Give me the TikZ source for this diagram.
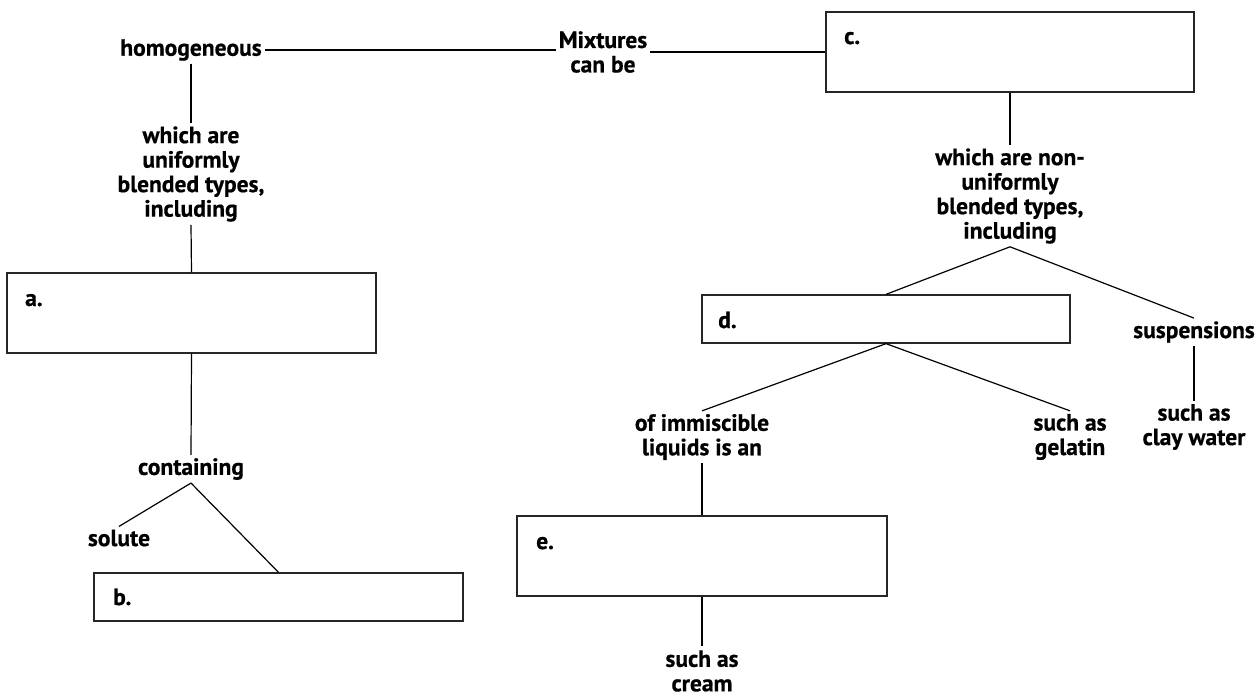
\documentclass[tikz,border=0pt]{standalone}
\usepackage{fontspec}
\setmainfont{PT Sans}[BoldFeatures={FakeBold=0.6}]
\usetikzlibrary{calc}
\tikzset{
  txt/.style={font=\bfseries\fontsize{23.5}{24.5}\selectfont, align=center, inner sep=3pt},
  lbl/.style={font=\bfseries\fontsize{23.5}{24.5}\selectfont, inner sep=0pt, anchor=base west},
  box/.style={draw=black!85, line width=1.3pt, minimum width=#1, inner sep=0pt},
  conn/.style={draw=black, line width=1.2pt},
}
\begin{document}
\begin{tikzpicture}[x=1pt,y=-1pt]
\useasboundingbox (0,0) rectangle (1257,697);
% left branch
\node[txt] (hom) at (191,50) {homogeneous};
\node[txt] (mix) at (603,52) {Mixtures\\can be};
\node[box=368pt, minimum height=80pt] (cbox) at (1010,52) {};
\node[lbl] (clab) at (844,44) {c.};
\node[txt] (wuni) at (191,174) {which are\\uniformly\\blended types,\\including};
\node[box=369pt, minimum height=80pt] (abox) at (191.5,313) {};
\node[lbl] (alab) at (25,306) {a.};
\node[txt] (cont) at (191,469) {containing};
\node[txt] (solute) at (119,538) {solute};
\node[box=369pt, minimum height=48pt] (bbox) at (278.5,597) {};
\node[lbl] (blab) at (113,605) {b.};
% right branch
\node[txt] (wnon) at (1010,196) {which are non-\\uniformly\\blended types,\\including};
\node[box=368pt, minimum height=48pt] (dbox) at (886,319) {};
\node[lbl] (dlab) at (718,328) {d.};
\node[txt] (susp) at (1194,332) {suspensions};
\node[txt] (clay) at (1194,427) {such as\\clay water};
\node[txt] (gel) at (1070,437) {such as\\gelatin};
\node[txt] (immis) at (702,437) {of immiscible\\liquids is an};
\node[box=370pt, minimum height=80pt] (ebox) at (702,556) {};
\node[lbl] (elab) at (536,549) {e.};
\node[txt, inner sep=1pt] (cream) at (702,671) {such as\\cream};
% connectors
\draw[conn] (hom.east) -- (hom.east -| mix.west);
\draw[conn] (mix.east |- cbox.west) -- (cbox.west);
\draw[conn] (hom.south) -- (wuni.north);
\draw[conn] (wuni.south) -- (abox.north);
\draw[conn] (abox.south) -- (cont.north);
\draw[conn] (cont.south) -- (solute.north);
\draw[conn] (cont.south) -- (bbox.north);
\draw[conn] (cbox.south) -- (wnon.north);
\draw[conn] (wnon.south) -- (dbox.north);
\draw[conn] (wnon.south) -- (susp.north);
\draw[conn] (dbox.south) -- (immis.north);
\draw[conn] (dbox.south) -- (gel.north);
\draw[conn] (susp.south) -- (clay.north);
\draw[conn] (immis.south) -- (ebox.north);
\draw[conn] ($(ebox.south)$) -- ($(cream.north)+(0,-3)$);
\end{tikzpicture}
\end{document}
